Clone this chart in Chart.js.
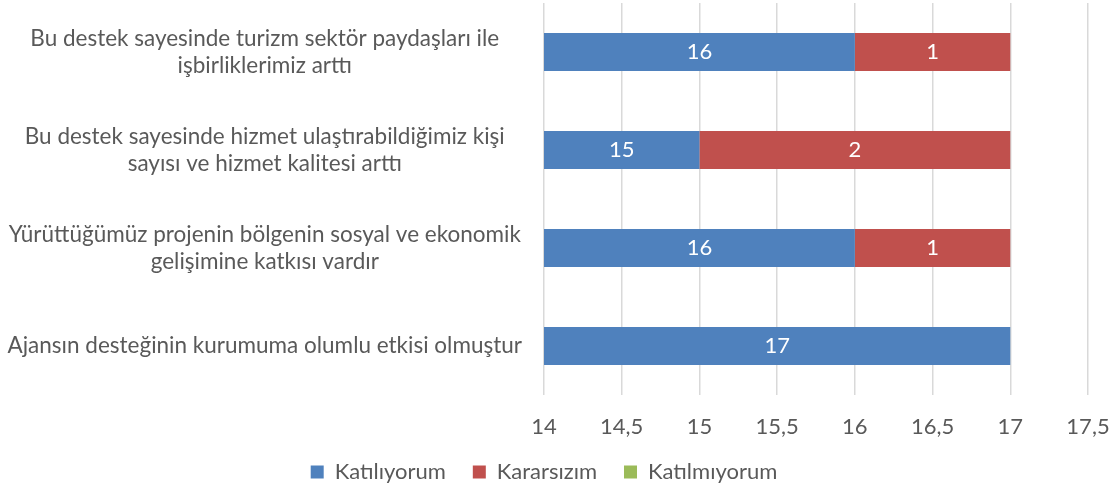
<!DOCTYPE html>
<html>
<head>
<meta charset="utf-8">
<script src="https://cdn.jsdelivr.net/npm/chart.js@4.4.0/dist/chart.umd.min.js"></script>
<style>
  body { margin: 0; background: #fff; }
  #wrap { width: 1116px; height: 493px; }
</style>
</head>
<body>
<div id="wrap"><canvas id="chart" width="1116" height="493"></canvas></div>
<script>
// categories, top to bottom
const categories = [
    ['Bu destek sayesinde turizm sektör paydaşları ile', 'işbirliklerimiz arttı'],
    ['Bu destek sayesinde hizmet ulaştırabildiğimiz kişi', 'sayısı ve hizmet kalitesi arttı'],
    ['Yürüttüğümüz projenin bölgenin sosyal ve ekonomik', 'gelişimine katkısı vardır'],
    'Ajansın desteğinin kurumuma olumlu etkisi olmuştur'
];
const seriesNames = ['Katılıyorum', 'Kararsızım', 'Katılmıyorum'];
const katiliyorum = [16, 15, 16, 17];
const kararsizim = [1, 2, 1, 0];
const katilmiyorum = [0, 0, 0, 0];

const colors = ['#4F81BD', '#C0504D', '#9BBB59'];
const FONT = 'Lato';
const SIZE = 22;

// white value labels, centred on the visible part of each bar
const barLabels = {
    id: 'barLabels',
    afterDatasetsDraw(chart) {
        const { ctx, chartArea } = chart;
        ctx.save();
        ctx.fillStyle = '#ffffff';
        ctx.font = `${SIZE}px ${FONT}`;
        ctx.textAlign = 'center';
        ctx.textBaseline = 'middle';
        chart.data.datasets.forEach((ds, i) => {
            chart.getDatasetMeta(i).data.forEach((bar, j) => {
                const v = ds.data[j];
                if (!v) return;
                const start = Math.max(Math.min(bar.base, bar.x), chartArea.left);
                const end = Math.min(Math.max(bar.base, bar.x), chartArea.right);
                ctx.fillText(String(v), (start + end) / 2, bar.y);
            });
        });
        ctx.restore();
    }
};

new Chart(document.getElementById('chart').getContext('2d'), {
    type: 'bar',
    data: {
        labels: categories,
        datasets: [
            { label: seriesNames[0], data: katiliyorum, backgroundColor: colors[0] },
            { label: seriesNames[1], data: kararsizim, backgroundColor: colors[1] },
            { label: seriesNames[2], data: katilmiyorum, backgroundColor: colors[2] }
        ]
    },
    options: {
        responsive: false,
        animation: false,
        indexAxis: 'y',
        layout: {
            padding: { top: 3, right: 28, left: 0, bottom: 0 }
        },
        datasets: {
            bar: {
                barPercentage: 0.39,
                categoryPercentage: 1
            }
        },
        plugins: {
            legend: {
                position: 'bottom',
                labels: {
                    boxWidth: 13,
                    boxHeight: 13,
                    padding: 10,
                    color: '#595959',
                    font: { family: FONT, size: SIZE },
                    // trailing spaces widen the gap between entries without adding height
                    generateLabels: function (chart) {
                        const items = Chart.defaults.plugins.legend.labels.generateLabels(chart);
                        items.forEach((item, i) => {
                            if (i < items.length - 1) item.text += '   ';
                        });
                        return items;
                    }
                }
            },
            tooltip: { enabled: false }
        },
        scales: {
            x: {
                stacked: true,
                min: 14,
                max: 17.5,
                border: { display: false },
                grid: {
                    color: '#D9D9D9',
                    lineWidth: 1.5,
                    drawTicks: false
                },
                ticks: {
                    stepSize: 0.5,
                    padding: 19,
                    color: '#595959',
                    font: { family: FONT, size: SIZE },
                    callback: function (value) {
                        return String(value).replace('.', ',');
                    }
                },
                afterFit: function (scale) {
                    scale.height = 56;
                    scale.paddingLeft = 0;
                    scale.paddingRight = 0;
                }
            },
            y: {
                stacked: true,
                border: { display: false },
                grid: { display: false, drawTicks: false },
                ticks: {
                    padding: 22,
                    crossAlign: 'center',
                    color: '#595959',
                    font: { family: FONT, size: 22.5, lineHeight: 1.2 }
                },
                afterFit: function (scale) {
                    scale.width = 544;
                    scale.paddingTop = 0;
                    scale.paddingBottom = 0;
                }
            }
        }
    },
    plugins: [barLabels]
});
</script>
</body>
</html>
